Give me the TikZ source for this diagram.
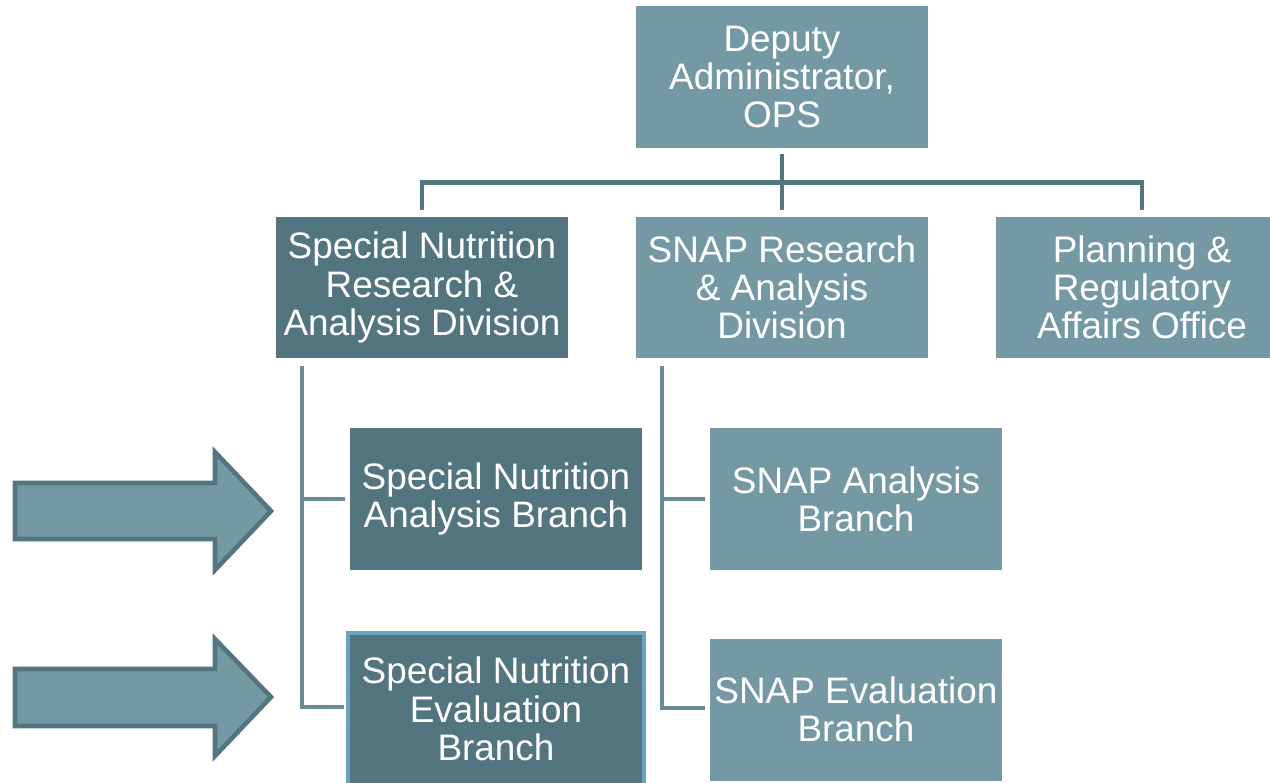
\documentclass[tikz,border=0pt]{standalone}
\usepackage{fontspec}
\setmainfont{Liberation Sans}
\usetikzlibrary{positioning, calc}
\definecolor{oplight}{HTML}{7599A4}
\definecolor{opdark}{HTML}{537580}
\definecolor{opline}{HTML}{6A8C97}
\definecolor{opblue}{HTML}{6CA3BE}

\begin{document}
\begin{tikzpicture}[
  x=0.02cm, y=-0.02cm,
  every node/.style={font=\fontsize{21}{21.8}\selectfont, text=white},
  lightbox/.style={rectangle, fill=oplight, minimum width=5.84cm, minimum height=2.84cm, align=center, inner sep=0pt},
  darkbox/.style={rectangle, fill=opdark, minimum width=5.84cm, minimum height=2.84cm, align=center, inner sep=0pt},
  hlbox/.style={rectangle, fill=opdark, draw=opblue, line width=2pt, minimum width=5.92cm, minimum height=3.04cm, align=center, inner sep=0pt},
  topline/.style={draw=opdark, line width=2.8pt},
  subline/.style={draw=opline, line width=2.3pt},
  blockarrow/.style={fill=oplight, draw=opdark, line width=2.6pt, line join=miter},
]
\useasboundingbox (0,0) rectangle (1270,782);
\clip (0,0) rectangle (1270,782);

% Top: deputy administrator
\node[lightbox] (dep) at (782,77) {Deputy\\Administrator,\\OPS};

% Divisions and office
\node[darkbox] (snrad) at (422,287.5) {Special Nutrition\\Research \&\\Analysis Division};
\node[lightbox] (snap) at (782,287.5) {SNAP Research\\\& Analysis\\Division};
\node[lightbox] (plan) at (1142,287.5) {Planning \&\\Regulatory\\Affairs Office};

% Branches
\node[darkbox] (snab) at (496,499) {Special Nutrition\\Analysis Branch};
\node[hlbox] (sneb) at (496,709) {Special Nutrition\\Evaluation\\Branch};
\node[lightbox] (snapab) at (856,499) {SNAP Analysis\\Branch};
\node[lightbox] (snapeb) at (856,709.5) {SNAP Evaluation\\Branch};

% Connectors from the top
\draw[topline] ([yshift=-0.12cm]dep.south) -- ([yshift=0.12cm]snap.north);
\draw[topline] ([yshift=0.12cm]snrad.north) |- ([yshift=-0.68cm]dep.south) -| ([yshift=0.12cm]plan.north);

% Connectors to the branches
\draw[subline] ([xshift=0.52cm,yshift=-0.14cm]snrad.south west) |- ([xshift=-0.1cm]snab.west);
\draw[subline] ([xshift=0.52cm,yshift=-0.14cm]snrad.south west) |- ([xshift=-0.04cm,yshift=0.04cm]sneb.west);
\draw[subline] ([xshift=0.52cm,yshift=-0.14cm]snap.south west) |- ([xshift=-0.1cm]snapab.west);
\draw[subline] ([xshift=0.52cm,yshift=-0.14cm]snap.south west) |- ([xshift=-0.1cm,yshift=0.03cm]snapeb.west);

% Block arrows pointing at the two branches
\draw[blockarrow] (15,483) -- (215,483) -- (215,452) -- (271,511) -- (215,570) -- (215,539) -- (15,539) -- cycle;
\draw[blockarrow] (15,669) -- (215,669) -- (215,639) -- (271,697) -- (215,756) -- (215,726) -- (15,726) -- cycle;

\end{tikzpicture}
\end{document}
